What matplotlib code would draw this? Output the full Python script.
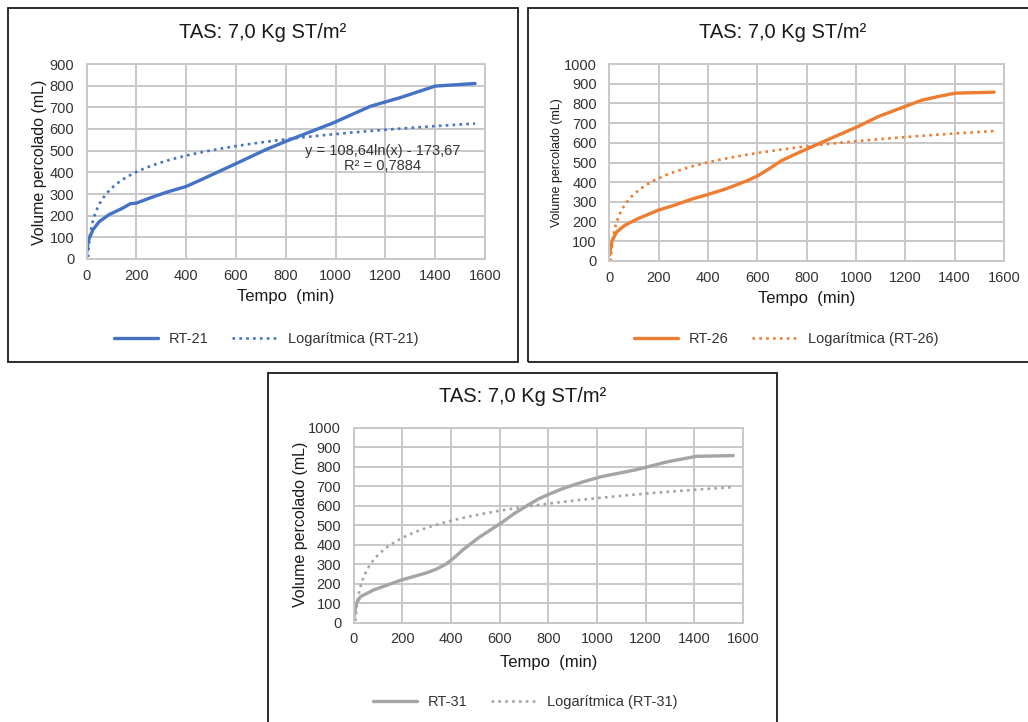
import numpy as np
import matplotlib
matplotlib.use("Agg")
from matplotlib import pyplot as plt
from matplotlib.patches import Rectangle

plt.rcParams["font.family"] = ["Liberation Sans", "DejaVu Sans"]

# dados
rt21_t = [0, 5, 10, 25, 50, 90, 145, 175, 200, 250, 320, 400, 460, 590, 720, 800, 990, 1140, 1260, 1400, 1560]
rt21_v = [30, 75, 95, 135, 172, 205, 235, 255, 258, 280, 308, 335, 366, 435, 505, 543, 628, 705, 745, 798, 810]

rt26_t = [0, 12, 30, 64, 118, 199, 266, 334, 401, 470, 523, 560, 604, 650, 699, 750, 800, 915, 1009, 1090, 1198,
          1266, 1330, 1401, 1560]
rt26_v = [29, 105, 148, 182, 216, 258, 284, 314, 338, 365, 390, 408, 434, 470, 510, 540, 568, 632, 683, 733, 784,
          816, 834, 852, 857]

rt31_t = [0, 11, 27, 82, 196, 298, 340, 375, 410, 450, 518, 607, 660, 716, 760, 799, 860, 936, 1018, 1155, 1210,
          1292, 1408, 1560]
rt31_v = [22, 99, 133, 168, 219, 255, 275, 297, 330, 375, 440, 512, 560, 603, 635, 657, 688, 720, 749, 783, 800,
          826, 853, 857]

# linhas de tendência logarítmica: y = a*ln(x) + b
trend_21 = (108.64, -173.67)
trend_26 = (116.8, -198.9)
trend_31 = (126.6, -235.7)

W, H = 1028, 722
fig = plt.figure(figsize=(W / 100, H / 100), dpi=100)


def px_rect(l, t, r, b):
    return [l / W, 1 - b / H, (r - l) / W, (b - t) / H]


def panel(box, rect, t, v, trend, color, name, ymax, ylab_size, title_xy, ylab_xy, xlab_xy, leg_xy):
    l, t0, r, b = box
    fig.patches.append(Rectangle((l / W, 1 - b / H), (r - l) / W, (b - t0) / H,
                                 transform=fig.transFigure, fill=False,
                                 edgecolor="#1a1a1a", linewidth=1.3))
    ax = fig.add_axes(px_rect(*rect))
    xs = np.linspace(3, t[-1], 500)
    ax.plot(t, v, color=color, linewidth=2.4, label=name, solid_capstyle="round",
            solid_joinstyle="round")
    ax.plot(xs, trend[0] * np.log(xs) + trend[1], color=color, linewidth=1.9,
            linestyle=(0, (1, 1.6)), label="Logarítmica (%s)" % name)
    ax.set_xlim(0, 1600)
    ax.set_ylim(0, ymax)
    ax.set_xticks(range(0, 1601, 200))
    ax.set_yticks(range(0, ymax + 1, 100))
    ax.grid(True, color="#c8c8c8", linewidth=1.4)
    ax.set_axisbelow(True)
    for s in ax.spines.values():
        s.set_color("#c8c8c8")
        s.set_linewidth(1.4)
    ax.tick_params(axis="x", length=0, labelsize=10.5, labelcolor="#333333", pad=7)
    ax.tick_params(axis="y", length=0, labelsize=10.5, labelcolor="#333333", pad=9)
    fig.text(title_xy[0] / W, 1 - title_xy[1] / H, "TAS: 7,0 Kg ST/m²",
             ha="center", va="center", fontsize=14.5, color="#1a1a1a")
    fig.text(ylab_xy[0] / W, 1 - ylab_xy[1] / H, "Volume percolado (mL)",
             ha="center", va="center", rotation=90, fontsize=ylab_size, color="#1a1a1a")
    fig.text(xlab_xy[0] / W, 1 - xlab_xy[1] / H, "Tempo  (min)",
             ha="center", va="center", fontsize=12, color="#1a1a1a")
    fig.legend(*ax.get_legend_handles_labels(), loc="center",
               bbox_to_anchor=(leg_xy[0] / W, 1 - leg_xy[1] / H), ncol=2,
               frameon=False, fontsize=10.5, handlelength=3.0, columnspacing=1.6,
               labelcolor="#333333")
    return ax


ax1 = panel((8, 8, 518, 362), (86.7, 64, 485, 259), rt21_t, rt21_v, trend_21, "#4472C4", "RT-21", 900, 11.5,
            (263, 33), (40, 162), (286, 297), (266, 339))
ax1.text(1190, 465, "y = 108,64ln(x) - 173,67\nR² = 0,7884", ha="center", va="center",
         fontsize=10.5, color="#333333", linespacing=1.05)

panel((528, 8, 1032, 362), (609.3, 64, 1004, 261), rt26_t, rt26_v, trend_26, "#ED7D31", "RT-26", 1000, 9,
      (783, 33), (557, 163), (807, 299), (786, 339))

panel((268, 373, 777, 730), (353.7, 427.7, 743, 622.7), rt31_t, rt31_v, trend_31, "#A5A5A5", "RT-31", 1000, 11.5,
      (523, 397), (300, 524), (549, 662), (525, 702))

fig.savefig("out.png", dpi=100)
